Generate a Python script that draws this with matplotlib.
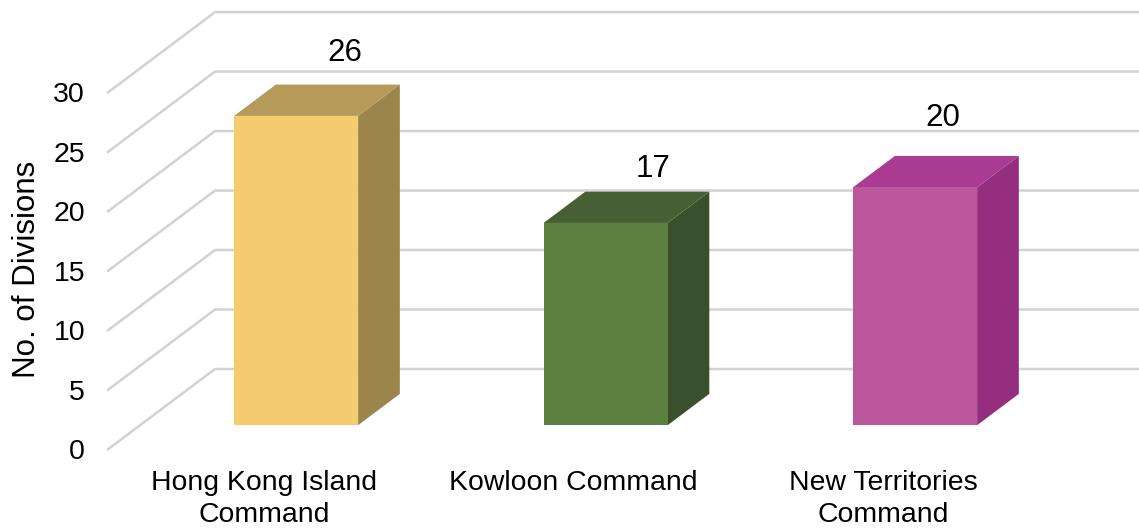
import matplotlib
matplotlib.use("Agg")
import matplotlib.pyplot as plt
from matplotlib.patches import Polygon

categories = ["Hong Kong Island\nCommand", "Kowloon Command", "New Territories\nCommand"]
divisions = [26, 17, 20]
y_ticks = [0, 5, 10, 15, 20, 25, 30]

# front, top, side colour of every bar
front_colors = ["#F4CB6F", "#5B8040", "#BD579D"]
top_colors = ["#B59A5A", "#466034", "#AA3B92"]
side_colors = ["#9C854B", "#3A4F2B", "#962E80"]

GRID = "#D2D2D2"
W, H = 1139, 531
# pixel layout of the front plane
LEFT, RIGHT, BOTTOM, TOP = 108, 1139, 449.3, 92.4
PX_PER_CAT = 309.5
CAT0_PX = 264

plt.rcParams["font.family"] = ["Liberation Sans", "DejaVu Sans"]
fig = plt.figure(figsize=(W / 100, H / 100), dpi=100)
ax = fig.add_axes([LEFT / W, 1 - BOTTOM / H, (RIGHT - LEFT) / W, (BOTTOM - TOP) / H])
ax.set_xlim((LEFT - CAT0_PX) / PX_PER_CAT, (RIGHT - CAT0_PX) / PX_PER_CAT)
ax.set_ylim(0, 30)

# fake 3d: depth 1 moves a point this much in data units
px_per_val = (BOTTOM - TOP) / 30
DX = 107 / PX_PER_CAT
DY = 80.3 / px_per_val


def project(x, y, z):
    return x + z * DX, y + z * DY


# walls
xmax = ax.get_xlim()[1]
x0 = ax.get_xlim()[0]
for v in y_ticks:
    xa, ya = project(x0, v, 0)
    xb, yb = project(x0, v, 1)
    ax.plot([xa, xb, xmax], [ya, yb, yb], color=GRID, lw=1.8, clip_on=False,
            solid_joinstyle="miter", zorder=1)

# bars
bar_w = 124 / PX_PER_CAT
z1, z2 = 0.30, 0.69
# label offsets from the bar's front top centre, in pixels
label_dx = [49, 47, 28]
label_dy = [63, 54, 69]
for i, val in enumerate(divisions):
    l, r = i - bar_w / 2, i + bar_w / 2
    front = [project(l, 0, z1), project(r, 0, z1), project(r, val, z1), project(l, val, z1)]
    side = [project(r, 0, z1), project(r, 0, z2), project(r, val, z2), project(r, val, z1)]
    top = [project(l, val, z1), project(r, val, z1), project(r, val, z2), project(l, val, z2)]
    ax.add_patch(Polygon(side, fc=side_colors[i], ec="none", clip_on=False, zorder=3))
    ax.add_patch(Polygon(top, fc=top_colors[i], ec="none", clip_on=False, zorder=3))
    ax.add_patch(Polygon(front, fc=front_colors[i], ec="none", clip_on=False, zorder=4))
    ax.annotate(str(val), xy=project(i, val, z1), xytext=(label_dx[i], label_dy[i]),
                textcoords="offset pixels", ha="center", va="center",
                fontsize=22.5, color="black", annotation_clip=False, zorder=5)

for s in ax.spines.values():
    s.set_visible(False)
ax.patch.set_visible(False)
ax.set_yticks(y_ticks)
ax.set_xticks(range(len(categories)))
ax.set_xticklabels(categories, fontsize=20.4, linespacing=1.28)
ax.tick_params(axis="y", length=0, pad=16.5, labelsize=20.5, colors="black")
ax.tick_params(axis="x", length=0, pad=15, colors="black")
ax.set_ylabel("No. of Divisions", fontsize=22.5)
ax.yaxis.set_label_coords(-0.0645, 0.505)

fig.savefig("out.png", dpi=100)
